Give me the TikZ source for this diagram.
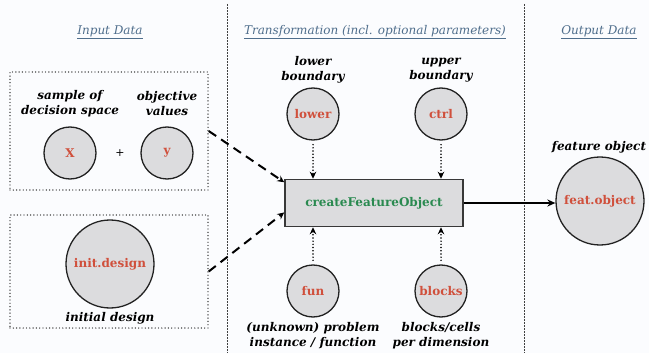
\documentclass[tikz,border=0pt]{standalone}
\usepackage{fontspec}
\setmainfont{DejaVu Serif}
\usetikzlibrary{arrows.meta}
\definecolor{bg}{HTML}{FBFCFE}
\definecolor{cfill}{HTML}{DCDCDE}
\definecolor{redt}{HTML}{D0503C}
\definecolor{greent}{HTML}{2A8A50}
\definecolor{headc}{HTML}{4F6E8C}
\definecolor{edge}{HTML}{222222}
\begin{document}
\begin{tikzpicture}[x=1pt,y=-1pt,
  circ/.style={circle,draw=edge,line width=1.3pt,fill=cfill,minimum size=52pt,inner sep=0pt,
    font=\bfseries\fontsize{12}{13}\selectfont,text=redt},
  bigcirc/.style={circ,minimum size=88pt},
  lbl/.style={font=\bfseries\itshape\fontsize{12}{15}\selectfont,align=center,inner sep=0pt},
  head/.style={font=\itshape\fontsize{12}{13}\selectfont,text=headc,inner sep=0pt},
  dotbox/.style={draw=edge,line width=1.4pt,dash pattern=on 0pt off 3.3pt,line cap=round,minimum width=198pt,inner sep=0pt},
  divider/.style={draw=black!75,line width=0.9pt,dash pattern=on 0.6pt off 0.9pt},
  dasharrow/.style={draw=black,line width=2pt,dash pattern=on 9pt off 6pt,-{Stealth[length=7pt,width=6.5pt]}},
  dotarrow/.style={draw=black,line width=1.7pt,dash pattern=on 0pt off 3.2pt,line cap=round,-{Stealth[length=7pt,width=6.5pt,line cap=butt]}},
  solidarrow/.style={draw=black,line width=1.4pt,-{Stealth[length=8pt,width=7pt]}},
  fobox/.style={draw=edge!90,line width=1.5pt,fill=cfill,minimum width=178pt,minimum height=47pt,inner sep=0pt,
    font=\bfseries\fontsize{12}{13}\selectfont,text=greent}
]
\fill[bg] (0,0) rectangle (649,353);
\useasboundingbox (0,0) rectangle (649,353);
% dividers
\coordinate (d1t) at (227,4); \coordinate (d1b) at (227,353);
\coordinate (d2t) at (524,4); \coordinate (d2b) at (524,353);
\draw[divider] (d1t) -- (d1b);
\draw[divider] (d2t) -- (d2b);
% headers
\node[head] (h1) at (110,32) {\underline{Input Data}};
\node[head] (h2) at (375,32) {\underline{Transformation (incl. optional parameters)}};
\node[head] (h3) at (599,32) {\underline{Output Data}};
% input boxes
\node[dotbox,minimum height=118pt] (inbox1) at (109,131) {};
\node[dotbox,minimum height=113pt] (inbox2) at (109,271.5) {};
\node[circ] (X) at (70,153) {X};
\node[circ] (Y) at (167,153) {y};
\node[font=\fontsize{11}{12}\selectfont] (plus) at (120,153) {+};
\node[lbl] (lX) at (70,104) {sample of\\decision space};
\node[lbl] (lY) at (167,104) {objective\\values};
\node[bigcirc] (init) at (110,264) {init.design};
\node[lbl] (linit) at (110,318) {initial design};
% transformation
\node[fobox] (fo) at (374,203) {createFeatureObject};
\node[circ] (lower) at (313,114) {lower};
\node[circ] (ctrl) at (441,114) {ctrl};
\node[circ] (fun) at (313,291) {fun};
\node[circ] (blocks) at (441,291) {blocks};
\node[lbl] (llower) at (313,70) {lower\\boundary};
\node[lbl] (lctrl) at (441,70) {upper\\boundary};
\node[lbl] (lfun) at (313,336) {(unknown) problem\\instance / function};
\node[lbl] (lblocks) at (441,336) {blocks/cells\\per dimension};
% output
\node[bigcirc] (feat) at (600,201) {feat.object};
\node[lbl] (lfeat) at (599,147) {feature object};
% connectors
\draw[dasharrow] (inbox1.east) -- (fo.167);
\draw[dasharrow] (inbox2.east) -- (fo.186);
\draw[dotarrow] ([yshift=-4pt]lower.south) -- (lower |- fo.north);
\draw[dotarrow] ([yshift=-4pt]ctrl.south) -- (ctrl |- fo.north);
\draw[dotarrow] ([yshift=4pt]fun.north) -- (fun |- fo.south);
\draw[dotarrow] ([yshift=4pt]blocks.north) -- (blocks |- fo.south);
\draw[solidarrow] (fo.east) -- (fo.east -| feat.west);
\end{tikzpicture}
\end{document}
